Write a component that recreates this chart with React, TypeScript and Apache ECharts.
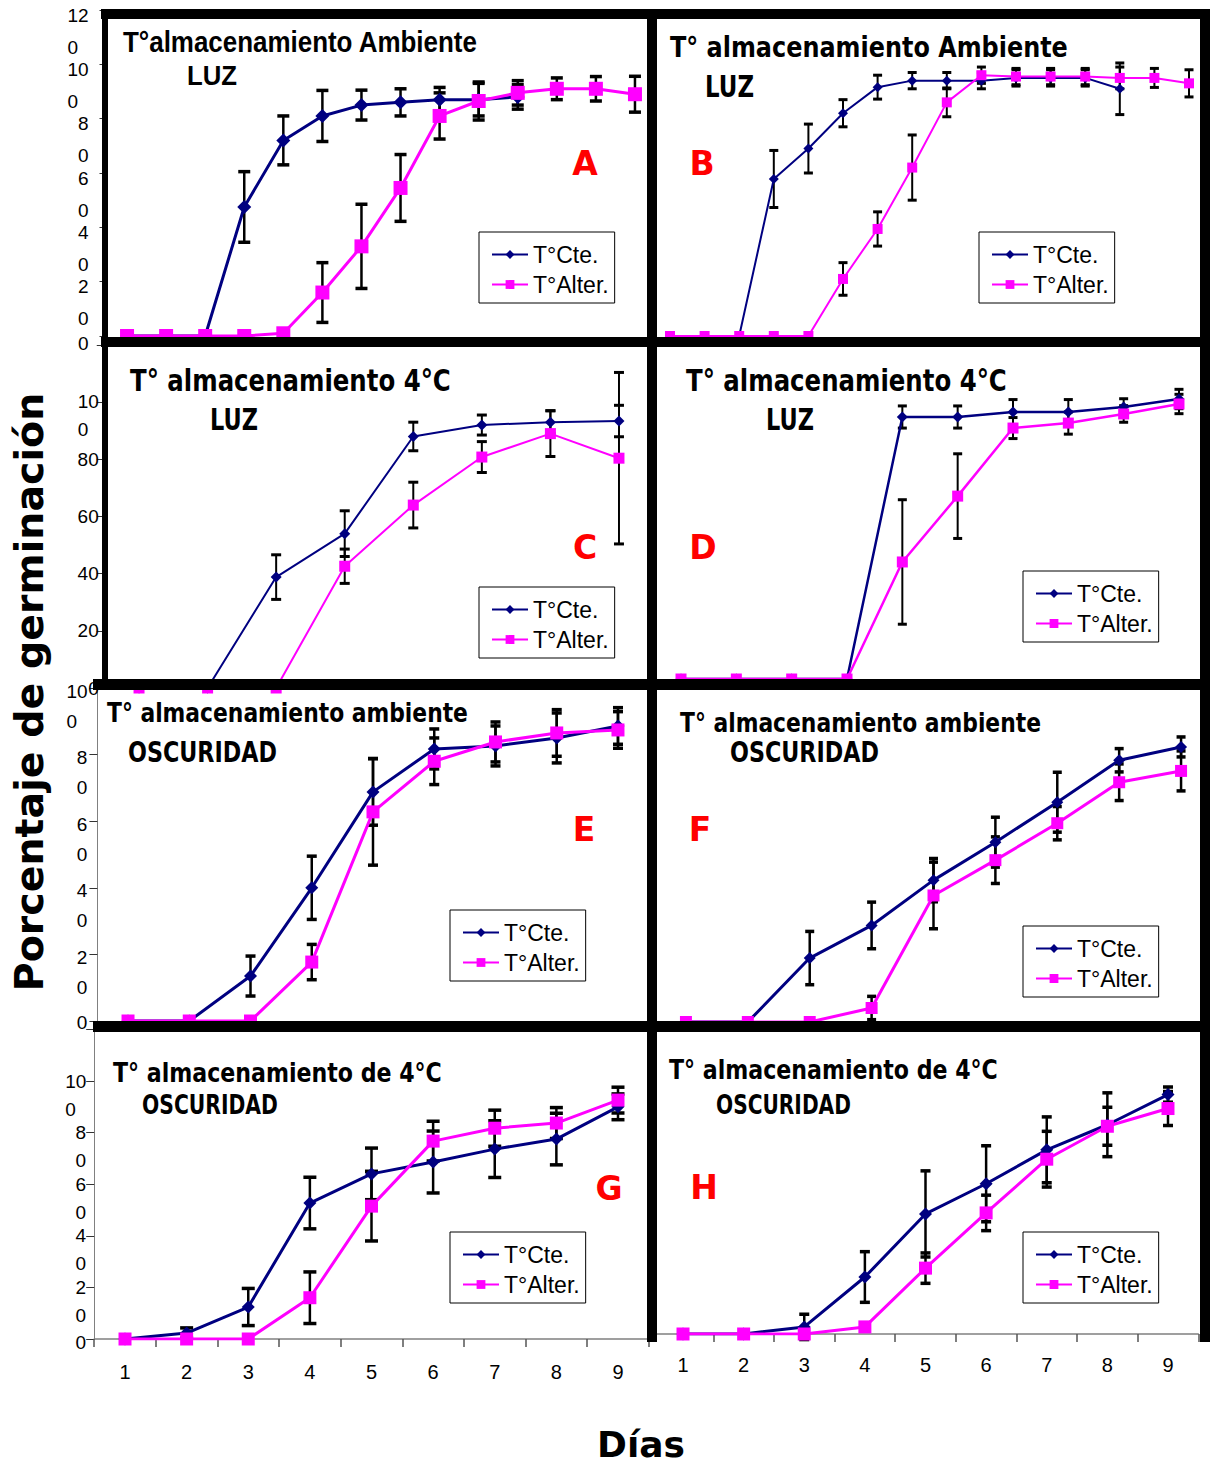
import React, { useEffect, useRef } from 'react';
import * as echarts from 'echarts';

const CTE = 'T°Cte.';
const ALT = 'T°Alter.';

const days8 = ['1', '2', '3', '4', '5', '6', '7', '8'];
const days9 = ['1', '2', '3', '4', '5', '6', '7', '8', '9'];
const days10 = ['1', '2', '3', '4', '5', '6', '7', '8', '9', '10'];
const days14 = ['1', '2', '3', '4', '5', '6', '7', '8', '9', '10', '11', '12', '13', '14'];
const days16 = ['1', '2', '3', '4', '5', '6', '7', '8', '9', '10', '11', '12', '13', '14', '15', '16'];

// y tick labels
const yTicks120 = ['0', '20', '40', '60', '80', '100', '120'];
const yTicks100 = ['0', '20', '40', '60', '80', '100'];

// A: ambiente, luz
const aCte = [0, 0, 0, 47.5, 72, 81, 85, 86, 87, 87, 88];
const aCteErr = [0, 0, 0, 13, 9, 9.4, 5.5, 5, 4.5, 6, 4.5];
const aAlt = [0, 0, 0, 0, 1, 16, 33, 54.5, 81, 86.5, 89.5, 91, 91, 89];
const aAltErr = [0, 0, 0, 0, 0, 11, 15.5, 12.3, 8.5, 7, 4.5, 4, 4.5, 6.6];
// B: ambiente, luz
const bCte = [0, 0, 0, 57.8, 69, 82, 91.6, 94, 94, 94, 95, 95, 95, 91];
const bCteErr = [0, 0, 0, 10.5, 9, 5, 4.4, 3, 3, 3, 3, 3, 3, 9.5];
const bAlt = [0, 0, 0, 0, 0, 21, 39.4, 62, 86, 96, 95.5, 95.5, 95.5, 95, 95, 93];
const bAltErr = [0, 0, 0, 0, 0, 6, 6.3, 12, 5.3, 3, 3, 3, 3, 4, 3.5, 5];
// C: 4°C, luz
const cCte = [0, 0, 38.8, 54, 88, 92, 93, 93.4];
const cCteErr = [0, 0, 7.8, 8, 5, 3.5, 4, 5.5];
const cAlt = [0, 0, 0, 42.6, 64, 80.8, 89, 80.4];
const cAltErr = [0, 0, 0, 6, 8, 5.4, 8, 30];
// D: 4°C, luz
const dCte = [0, 0, 0, 0, 94.7, 94.7, 96.5, 96.5, 98.3, 101.2];
const dCteErr = [0, 0, 0, 0, 4, 4, 4.5, 4.5, 3, 3.5];
const dAlt = [0, 0, 0, 0, 42.3, 66.1, 90.7, 92.5, 95.8, 99.4];
const dAltErr = [0, 0, 0, 0, 22.5, 15.3, 3.8, 4, 3, 3.5];
// E: ambiente, oscuridad
const eCte = [0, 0, 13.5, 40, 68.8, 81.7, 82.6, 85, 88.6];
const eCteErr = [0, 0, 6, 9.5, 10, 6, 6, 7.5, 5.5];
const eAlt = [0, 0, 0, 17.7, 62.8, 78, 83.8, 86.5, 87.4];
const eAltErr = [0, 0, 0, 5.3, 16, 7, 6, 7, 5.5];
// F: ambiente, oscuridad
const fCte = [0, 0, 19.2, 29, 42.6, 54, 66, 78.6, 82.6];
const fCteErr = [0, 0, 8, 7, 6.5, 7.5, 9, 3.5, 3];
const fAlt = [0, 0, 0, 4.2, 38, 48.6, 59.7, 72, 75.4];
const fAltErr = [0, 0, 0, 3.5, 10, 7, 5, 5.5, 6];
// G: 4°C, oscuridad
const gCte = [0, 2.3, 12.4, 52.7, 64, 68.6, 73.6, 77.5, 90];
const gCteErr = [0, 2, 7.2, 10, 10, 12, 11, 10, 5];
const gAlt = [0, 0, 0, 16, 51.5, 76.7, 81.7, 83.7, 92.6];
const gAltErr = [0, 0, 0, 10, 13.5, 7.7, 7, 6, 5];
// H: 4°C, oscuridad
const hCte = [0, 0, 2.8, 22.5, 47.4, 59.3, 72.7, 82.6, 94.5];
const hCteErr = [0, 0, 5, 10, 17, 15, 13, 12.6, 3];
const hAlt = [0, 0, 0, 2.8, 26, 47.8, 69, 82, 89];
const hAltErr = [0, 0, 0, 0, 6, 7, 11, 7.5, 6.7];

// y-axis tick labels wrapped in two lines like the original ("12" over "0")
type LabelCfg = { shift: number; zeroShift: number; gap: number; splitAll: boolean; hideTop: boolean };
const makeYLabel = (c: LabelCfg, top: string) => ({
  formatter: (s: string) => {
    if (c.hideTop && s === top) return '';
    if (s === '0') return c.zeroShift > 0 ? '{z| }\n{n|0}' : '{p|0}';
    if (!c.splitAll && s.length < 3) return '{p|' + s + '}';
    const tag = s.length >= 3 ? 'w' : 'n';
    return '{s| }\n{' + tag + '|' + s.slice(0, -1) + '}\n{' + tag + '|' + s.slice(-1) + '}';
  },
  rich: {
    s: { lineHeight: Math.max(1, 2 * c.shift + c.gap), fontSize: 4 },
    z: { lineHeight: Math.max(1, 2 * c.zeroShift), fontSize: 4 },
    n: { lineHeight: c.gap, fontSize: 19, fontFamily: 'Liberation Sans', color: '#000' },
    w: { lineHeight: c.gap, width: 21, align: 'left', fontSize: 19, fontFamily: 'Liberation Sans', color: '#000' },
    p: { lineHeight: c.gap, fontSize: 19, fontFamily: 'Liberation Sans', color: '#000' },
  },
});

type Panel = {
  cats: string[]; cte: number[]; cteErr: number[]; alt: number[]; altErr: number[];
  grid: { left: number; top: number; width: number; height: number };
  max: number; ticks: string[]; sym: number; lw: number; cap: number; elw: number;
  yLab?: LabelCfg; yMargin?: number; xLabels?: boolean; xMargin?: number;
  legend: [number, number];
};

const panels: Panel[] = [
  { cats: days14, cte: aCte, cteErr: aCteErr, alt: aAlt, altErr: aAltErr,
    grid: { left: 107.5, top: 10, width: 547, height: 326 }, max: 120, ticks: yTicks120, sym: 14, lw: 3, cap: 12, elw: 2.5,
    yLab: { shift: 5, zeroShift: 7, gap: 32, splitAll: true, hideTop: false }, yMargin: 19, legend: [479, 232] },
  { cats: days16, cte: bCte, cteErr: bCteErr, alt: bAlt, altErr: bAltErr,
    grid: { left: 652.7, top: 10, width: 553.6, height: 326 }, max: 120, ticks: yTicks120, sym: 10, lw: 2, cap: 9, elw: 2,
    legend: [979, 232] },
  { cats: days8, cte: cCte, cteErr: cCteErr, alt: cAlt, altErr: cAltErr,
    grid: { left: 104.75, top: 345, width: 548.5, height: 343 }, max: 120, ticks: yTicks120, sym: 11, lw: 2, cap: 10, elw: 2,
    yLab: { shift: -1, zeroShift: 0, gap: 28, splitAll: false, hideTop: true }, yMargin: 6, legend: [479, 587] },
  { cats: days10, cte: dCte, cteErr: dCteErr, alt: dAlt, altErr: dAltErr,
    grid: { left: 653.35, top: 347, width: 553.3, height: 332 }, max: 120, ticks: yTicks120, sym: 11, lw: 2.5, cap: 9, elw: 2,
    legend: [1023, 571] },
  { cats: days9, cte: eCte, cteErr: eCteErr, alt: eAlt, altErr: eAltErr,
    grid: { left: 97.4, top: 688, width: 551.2, height: 333 }, max: 100, ticks: yTicks100, sym: 13, lw: 3, cap: 10, elw: 2.5,
    yLab: { shift: 3, zeroShift: 1, gap: 30, splitAll: true, hideTop: false }, yMargin: 10, legend: [450, 910] },
  { cats: days9, cte: fCte, cteErr: fCteErr, alt: fAlt, altErr: fAltErr,
    grid: { left: 655, top: 689, width: 557, height: 333 }, max: 100, ticks: yTicks100, sym: 12, lw: 3, cap: 9, elw: 2.5,
    legend: [1023, 926] },
  { cats: days9, cte: gCte, cteErr: gCteErr, alt: gAlt, altErr: gAltErr,
    grid: { left: 94.2, top: 1029.4, width: 554.6, height: 309.6 }, max: 120, ticks: yTicks120, sym: 13, lw: 3, cap: 13, elw: 2.5,
    yLab: { shift: 0, zeroShift: 3, gap: 28, splitAll: true, hideTop: true }, yMargin: 8,
    xLabels: true, xMargin: 23, legend: [450, 1232] },
  { cats: days9, cte: hCte, cteErr: hCteErr, alt: hAlt, altErr: hAltErr,
    grid: { left: 652.7, top: 1030, width: 545.6, height: 304 }, max: 120, ticks: yTicks120, sym: 13, lw: 3, cap: 10, elw: 2.5,
    xLabels: true, xMargin: 21, legend: [1023, 1232] },
];

// [text, left, centerY, targetWidth, family, fontSize]
const titles: [string, number, number, number, string, number][] = [
  ['T°almacenamiento Ambiente', 123, 42, 355, 'Liberation Sans', 29],
  ['LUZ', 187, 76, 50, 'Liberation Sans', 27],
  ['T° almacenamiento Ambiente', 670, 47, 398, 'DejaVu Sans', 29],
  ['LUZ', 705, 86, 49, 'DejaVu Sans', 30],
  ['T° almacenamiento 4°C', 130, 381, 321, 'DejaVu Sans', 30],
  ['LUZ', 210, 419, 48, 'DejaVu Sans', 30],
  ['T° almacenamiento 4°C', 686, 381, 321, 'DejaVu Sans', 30],
  ['LUZ', 766, 419, 48, 'DejaVu Sans', 30],
  ['T° almacenamiento ambiente', 107, 713, 361, 'DejaVu Sans', 26],
  ['OSCURIDAD', 128, 752, 149, 'DejaVu Sans', 29],
  ['T° almacenamiento ambiente', 680, 723, 361, 'DejaVu Sans', 27],
  ['OSCURIDAD', 730, 752, 149, 'DejaVu Sans', 29],
  ['T° almacenamiento de 4°C', 113, 1073, 329, 'DejaVu Sans', 27],
  ['OSCURIDAD', 142, 1105, 136, 'DejaVu Sans', 27],
  ['T° almacenamiento de 4°C', 669, 1070, 329, 'DejaVu Sans', 27],
  ['OSCURIDAD', 716, 1105, 135, 'DejaVu Sans', 27],
];

const letters: [string, number, number][] = [
  ['A', 585, 163], ['B', 702, 163], ['C', 585, 547], ['D', 703, 547],
  ['E', 584, 829], ['F', 700, 829], ['G', 609, 1188], ['H', 704, 1187],
];

// thick black frame pieces: [x, y, w, h]
const frames: [number, number, number, number][] = [
  [101, 9, 1109, 10],
  [101, 337, 1109, 10],
  [93, 679, 1117, 11],
  [93, 1021, 1117, 11],
  [102, 9, 6, 681],
  [647, 9, 10, 1333],
  [1200, 9, 10, 1333],
];

function measure(text: string, font: string) {
  const c = document.createElement('canvas').getContext('2d');
  if (!c) return 1;
  c.font = font;
  return c.measureText(text).width || 1;
}

const toErr = (vals: number[], errs: number[]) =>
  vals.map((v, k) => [k, v, errs[k] || 0]).filter((d) => d[2] > 0);

const makeErr = (cap: number, w: number) => (params: any, api: any) => {
  const x = api.value(0);
  const y = api.value(1);
  const e = api.value(2);
  const t = api.coord([x, y + e]);
  const b = api.coord([x, y - e]);
  const st = { stroke: '#000', lineWidth: w };
  const sc = { stroke: '#000', lineWidth: w + 1 };
  return {
    type: 'group',
    children: [
      { type: 'line', shape: { x1: t[0], y1: t[1], x2: b[0], y2: b[1] }, style: st },
      { type: 'line', shape: { x1: t[0] - cap / 2, y1: t[1], x2: t[0] + cap / 2, y2: t[1] }, style: sc },
      { type: 'line', shape: { x1: b[0] - cap / 2, y1: b[1], x2: b[0] + cap / 2, y2: b[1] }, style: sc },
    ],
  };
};

export default function App() {
  const ref = useRef<HTMLDivElement>(null);
  useEffect(() => {
    document.body.style.margin = '0';
    const chart = echarts.init(ref.current!, null, { renderer: 'svg' });

    const series: any[] = [];
    panels.forEach((p, i) => {
      series.push({
        type: 'custom', name: 'errCte' + i, xAxisIndex: i, yAxisIndex: i, z: 2, silent: true, clip: false,
        data: toErr(p.cte, p.cteErr), renderItem: makeErr(p.cap, p.elw), encode: { x: 0, y: 1 },
      });
      series.push({
        type: 'custom', name: 'errAlt' + i, xAxisIndex: i, yAxisIndex: i, z: 2, silent: true, clip: false,
        data: toErr(p.alt, p.altErr), renderItem: makeErr(p.cap, p.elw), encode: { x: 0, y: 1 },
      });
      series.push({
        type: 'line', name: CTE, xAxisIndex: i, yAxisIndex: i, data: p.cte, z: 3,
        symbol: 'diamond', symbolSize: p.sym, showAllSymbol: true,
        lineStyle: { color: '#000080', width: p.lw }, itemStyle: { color: '#000080' },
      });
      series.push({
        type: 'line', name: ALT, xAxisIndex: i, yAxisIndex: i, data: p.alt, z: 4,
        symbol: 'rect', symbolSize: p.sym, showAllSymbol: true,
        lineStyle: { color: '#ff00ff', width: p.lw }, itemStyle: { color: '#ff00ff' },
      });
    });

    const elements: any[] = [];
    frames.forEach(([x, y, w, h]) => {
      elements.push({ type: 'rect', z: 50, shape: { x, y, width: w, height: h }, style: { fill: '#000' } });
    });
    titles.forEach(([text, left, cy, tw, fam, size]) => {
      const font = `bold ${size}px "${fam}"`;
      const mw = measure(text, font);
      elements.push({
        type: 'text', z: 60, x: left, y: cy, scaleX: tw / mw,
        style: { text, fontFamily: fam, fontSize: size, fontWeight: 'bold', fill: '#000', align: 'left', verticalAlign: 'middle' },
      });
    });
    letters.forEach(([text, x, y]) => {
      elements.push({
        type: 'text', z: 60, x, y,
        style: { text, fontFamily: 'DejaVu Sans', fontSize: 33, fontWeight: 'bold', fill: '#ff0000', align: 'center', verticalAlign: 'middle' },
      });
    });
    elements.push({
      type: 'text', z: 60, x: 29, y: 692, rotation: Math.PI / 2,
      style: { text: 'Porcentaje de germinación', fontFamily: 'DejaVu Sans', fontSize: 39.5, fontWeight: 'bold', fill: '#000', align: 'center', verticalAlign: 'middle' },
    });
    elements.push({
      type: 'text', z: 60, x: 641, y: 1444,
      style: { text: 'Días', fontFamily: 'DejaVu Sans', fontSize: 36, fontWeight: 'bold', fill: '#000', align: 'center', verticalAlign: 'middle' },
    });

    // value axes (data scale, hidden)
    const yAxes: any[] = panels.map((p, i) => ({
      type: 'value', gridIndex: i, min: 0, max: p.max, interval: 20, show: false,
      splitLine: { show: false },
    }));
    // category axes carrying the tick labels (same tick positions as the value scale)
    panels.forEach((p, i) => {
      if (!p.yLab) return;
      yAxes.push({
        type: 'category', gridIndex: i, data: p.ticks, boundaryGap: false, position: 'left',
        axisLine: { show: true, lineStyle: { color: '#808080', width: 1 } },
        axisTick: { show: true, length: 8, interval: 0, lineStyle: { color: '#333', width: 1 } },
        axisLabel: {
          ...makeYLabel(p.yLab, p.ticks[p.ticks.length - 1]),
          interval: 0, margin: p.yMargin || 10, fontFamily: 'Liberation Sans', fontSize: 19, color: '#000',
        },
        splitLine: { show: false },
      });
    });

    const option: any = {
      animation: false,
      backgroundColor: '#fff',
      grid: panels.map((p) => ({ ...p.grid, containLabel: false, outerBoundsMode: 'none' })),
      xAxis: panels.map((p, i) => ({
        type: 'category', gridIndex: i, data: p.cats, boundaryGap: true,
        show: !!p.xLabels,
        axisLine: { show: true, lineStyle: { color: '#808080', width: 1.5 } },
        axisTick: { show: true, length: 8, interval: 0, lineStyle: { color: '#555', width: 1.5 } },
        axisLabel: { show: true, interval: 0, margin: p.xMargin || 20, fontFamily: 'Liberation Sans', fontSize: 20, color: '#000' },
        splitLine: { show: false },
      })),
      yAxis: yAxes,
      legend: panels.map((p) => ({
        data: [CTE, ALT], orient: 'vertical', left: p.legend[0], top: p.legend[1],
        padding: [11, 6, 7, 12], itemGap: 7, itemWidth: 36, itemHeight: 11,
        borderColor: '#000', borderWidth: 1, backgroundColor: '#fff', borderRadius: 0,
        selectedMode: false,
        textStyle: { fontFamily: 'Liberation Sans', fontSize: 23, color: '#000' },
      })),
      series,
      graphic: { elements },
    };
    chart.setOption(option);
    return () => chart.dispose();
  }, []);
  return (
    <div
      ref={ref}
      style={{ position: 'absolute', left: 0, top: 0, width: 1210, height: 1466, background: '#fff' }}
    />
  );
}
